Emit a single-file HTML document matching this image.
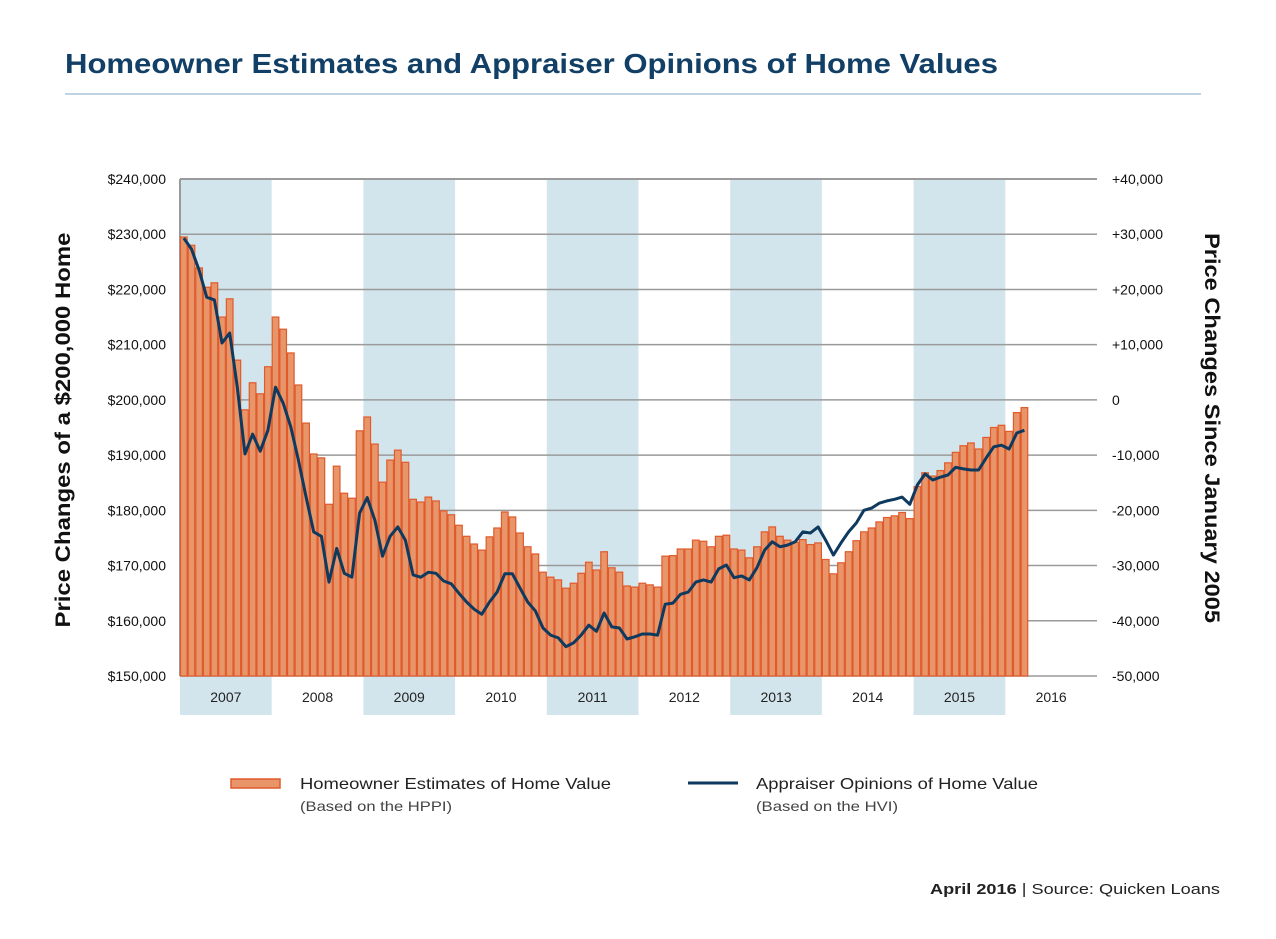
<!DOCTYPE html>
<html><head><meta charset="utf-8"><style>
body{margin:0;background:#fff;width:1276px;height:934px;overflow:hidden;font-family:"Liberation Sans",sans-serif}
svg text{font-family:"Liberation Sans",sans-serif}
</style></head><body>
<svg width="1276" height="934" id="svg">
<text x="65" y="73" font-size="28" font-weight="bold" fill="#123f66" textLength="933" lengthAdjust="spacingAndGlyphs">Homeowner Estimates and Appraiser Opinions of Home Values</text>
<line x1="65" y1="94" x2="1201" y2="94" stroke="#a9c6dc" stroke-width="1.5"/>
<g id="bands"></g><g id="grid"></g><g id="bars"></g><g id="line"></g><g id="axes"></g>
<text transform="translate(70,430) rotate(-90)" text-anchor="middle" font-size="21" font-weight="bold" fill="#111" textLength="395" lengthAdjust="spacingAndGlyphs">Price Changes of a $200,000 Home</text>
<text transform="translate(1205,428) rotate(90)" text-anchor="middle" font-size="21" font-weight="bold" fill="#111" textLength="390" lengthAdjust="spacingAndGlyphs">Price Changes Since January 2005</text>
<rect x="231" y="779" width="49" height="9" fill="#e8956a" stroke="#e05a2b" stroke-width="1.5"/>
<text x="300" y="789" font-size="16" fill="#222" textLength="311" lengthAdjust="spacingAndGlyphs">Homeowner Estimates of Home Value</text>
<text x="300" y="811" font-size="14" fill="#444" textLength="152" lengthAdjust="spacingAndGlyphs">(Based on the HPPI)</text>
<line x1="688" y1="783" x2="738" y2="783" stroke="#0d3a5e" stroke-width="3"/>
<text x="756" y="789" font-size="16" fill="#222" textLength="282" lengthAdjust="spacingAndGlyphs">Appraiser Opinions of Home Value</text>
<text x="756" y="811" font-size="14" fill="#444" textLength="142" lengthAdjust="spacingAndGlyphs">(Based on the HVI)</text>
<text x="1220" y="894" text-anchor="end" font-size="15" fill="#222" textLength="290" lengthAdjust="spacingAndGlyphs"><tspan font-weight="bold">April 2016</tspan>  |  Source: Quicken Loans</text>
</svg>
<script>
const years=["2007","2008","2009","2010","2011","2012","2013","2014","2015","2016"];
const leftTicks=["$150,000","$160,000","$170,000","$180,000","$190,000","$200,000","$210,000","$220,000","$230,000","$240,000"];
const rightTicks=["-50,000","-40,000","-30,000","-20,000","-10,000","0","+10,000","+20,000","+30,000","+40,000"];
const homeowner=[229.5,228.0,223.9,220.4,221.2,215.0,218.3,207.2,198.2,203.1,201.1,206.0,
215.0,212.8,208.5,202.7,195.8,190.2,189.5,181.1,188.0,183.1,182.2,194.4,
196.9,192.0,185.1,189.1,190.9,188.7,182.0,181.5,182.4,181.7,179.9,179.2,
177.3,175.3,173.9,172.8,175.2,176.8,179.7,178.8,175.9,173.4,172.1,168.8,
167.9,167.4,165.9,166.8,168.6,170.6,169.2,172.5,169.6,168.8,166.3,166.1,
166.8,166.5,166.1,171.7,171.8,173.0,173.0,174.6,174.4,173.4,175.3,175.5,
173.0,172.8,171.4,173.4,176.1,177.0,175.3,174.6,174.2,174.7,173.8,174.1,
171.1,168.5,170.5,172.5,174.5,176.1,176.8,177.9,178.7,179.0,179.6,178.5,
184.3,186.8,186.2,187.2,188.6,190.5,191.7,192.2,191.1,193.2,195.0,195.4,
194.3,197.7,198.6];
const appraiser=[229.3,227.3,223.5,218.6,218.1,210.3,212.1,202.3,190.2,193.8,190.7,194.5,
202.3,199.4,195.1,189.1,182.4,176.1,175.3,167.0,173.1,168.6,167.9,179.5,
182.3,178.2,171.7,175.3,177.0,174.6,168.3,167.9,168.8,168.6,167.2,166.7,
165.0,163.4,162.1,161.2,163.4,165.2,168.5,168.5,165.9,163.4,161.8,158.7,
157.4,156.9,155.3,156.0,157.4,159.2,158.1,161.4,158.9,158.7,156.7,157.1,
157.6,157.6,157.4,163.0,163.2,164.8,165.2,167.0,167.4,167.0,169.4,170.1,
167.8,168.1,167.4,169.6,172.8,174.3,173.4,173.7,174.3,176.1,175.9,177.0,
174.6,171.9,174.1,176.1,177.7,180.0,180.4,181.3,181.7,182.0,182.4,181.1,
184.6,186.6,185.5,186.0,186.4,187.8,187.5,187.3,187.3,189.5,191.5,191.8,
191.1,194.0,194.5];
const NS='http://www.w3.org/2000/svg';
const X0=180,X1=1097,Y0=676,Y1=179,YW=91.7,BW=YW/12;
const yScale=v=>Y0-(v-150)/90*(Y0-Y1);
const xScale=i=>X0+i*BW;
function mk(t,a,p){const e=document.createElementNS(NS,t);for(const k in a)e.setAttribute(k,a[k]);p.appendChild(e);return e;}
const bands=document.getElementById('bands'),grid=document.getElementById('grid'),barsG=document.getElementById('bars'),lineG=document.getElementById('line'),axes=document.getElementById('axes');
years.forEach((y,i)=>{
  if(i%2===0&&i<9){const r=mk('rect',{x:X0+i*YW,y:Y1,width:YW,height:715-Y1,fill:'#d3e5ec'},bands);
  
  }
  const t=mk('text',{x:X0+i*YW+YW/2,y:702,'text-anchor':'middle','font-size':'14',fill:'#222'},axes);t.textContent=y;
  
  
});
leftTicks.forEach((lab,i)=>{
  const y=yScale(150+i*10);
  const l=mk('line',{x1:X0,x2:X1,y1:y,y2:y,stroke:'#9a9a9a','stroke-width':i===9?2:1.5},grid);
  
  
  const t=mk('text',{x:166,y:y+5,'text-anchor':'end','font-size':'14',fill:'#111'},axes);t.textContent=lab;
  
  
  const t2=mk('text',{x:1112,y:y+5,'font-size':'14',fill:'#111'},axes);t2.textContent=rightTicks[i];
  
  
});
mk('line',{x1:X0,x2:X0,y1:Y1,y2:Y0,stroke:'#9a9a9a','stroke-width':2},grid);
homeowner.forEach((v,i)=>{
  const y=yScale(v);
  const r=mk('rect',{x:xScale(i)+0.5,y:y,width:BW-1,height:Y0-y,fill:'#e8956a',stroke:'#e05a2b','stroke-width':1.2},barsG);
  
  
});
const pts=appraiser.map((v,i)=>(xScale(i)+BW/2).toFixed(1)+','+yScale(v).toFixed(1)).join(' ');
const pl=mk('polyline',{points:pts,fill:'none',stroke:'#0d3a5e','stroke-width':3,'stroke-linejoin':'round'},lineG);


</script>
</body></html>
